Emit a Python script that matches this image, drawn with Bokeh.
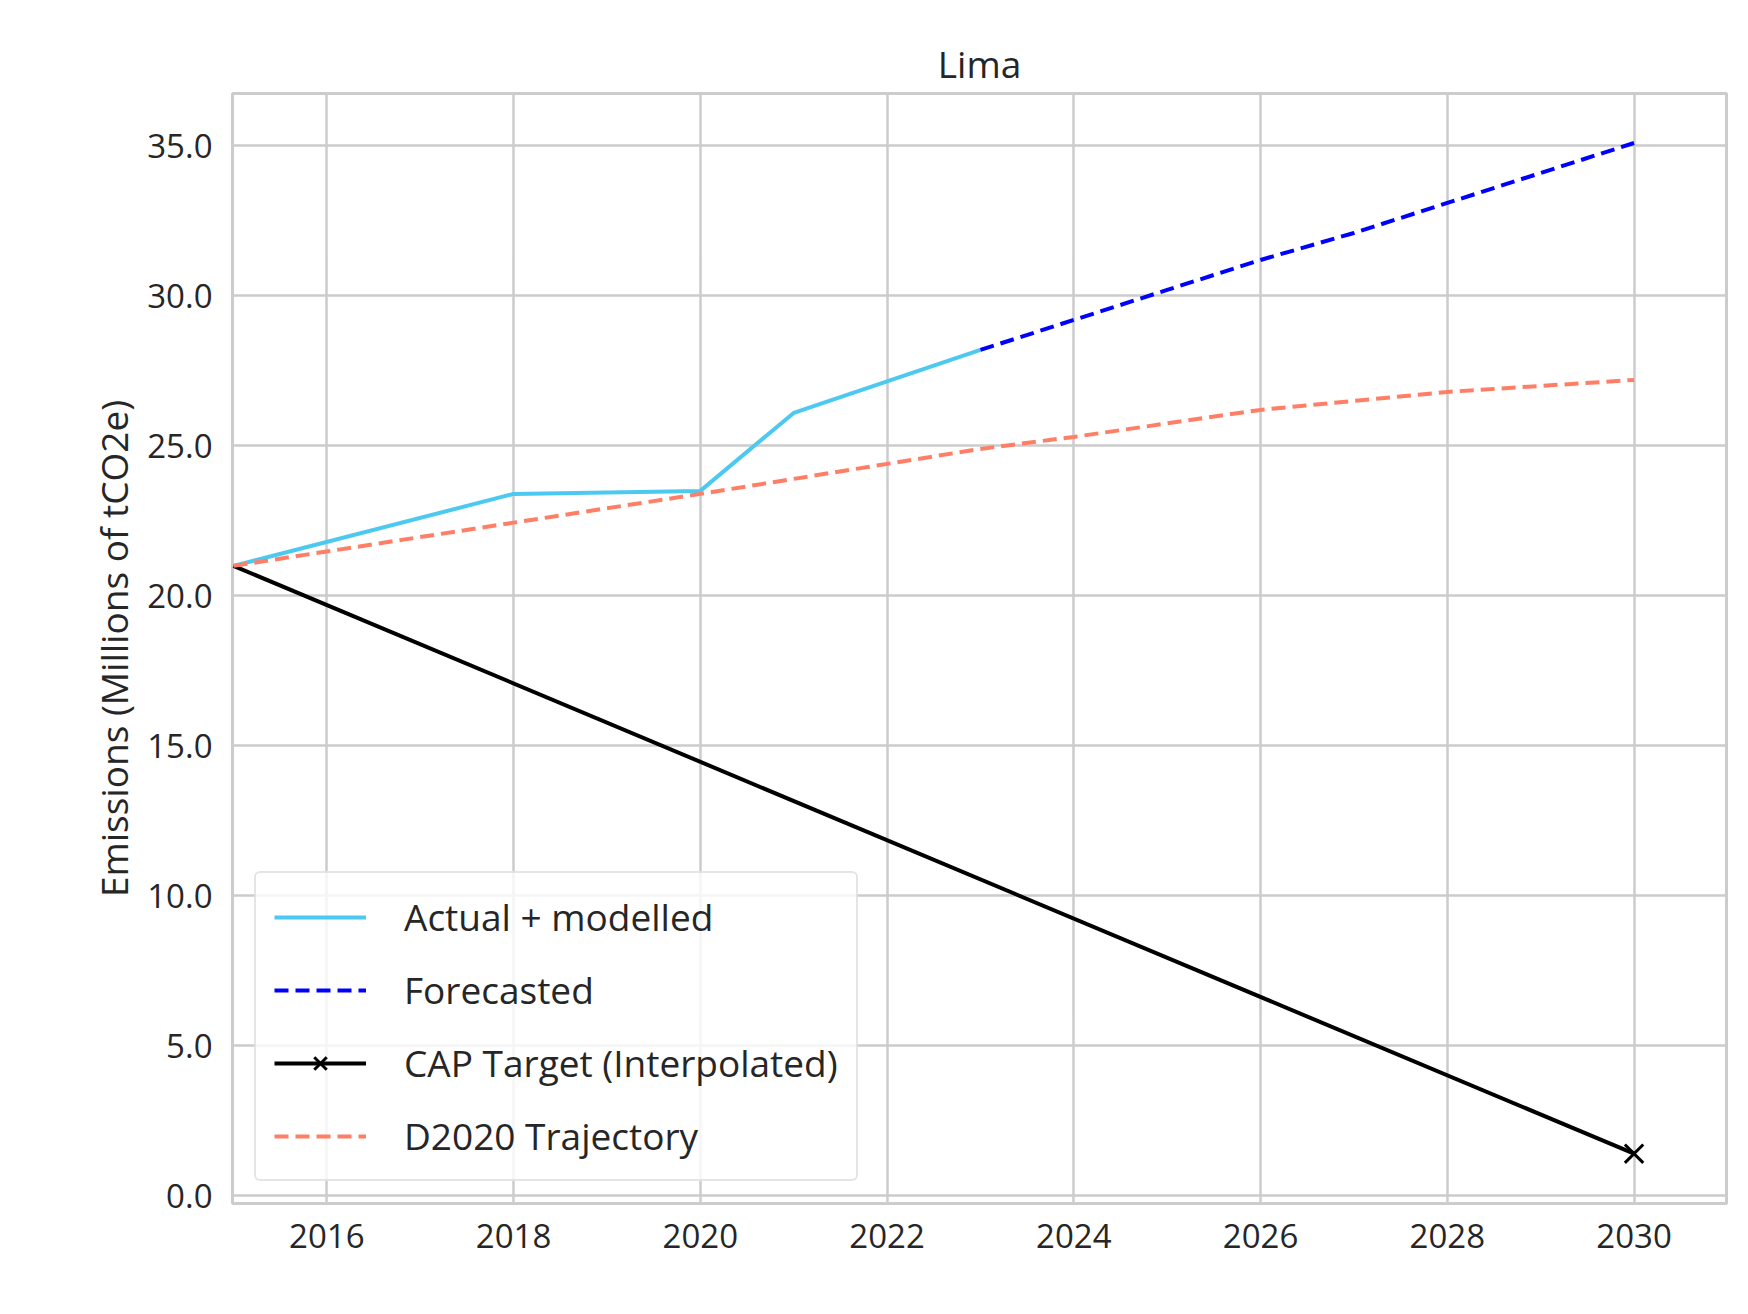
from bokeh.plotting import figure
from bokeh.models import FixedTicker, Range1d, NumeralTickFormatter, Legend
from bokeh.embed import file_html
from bokeh.resources import INLINE

actual_years = [2015, 2018, 2020, 2021, 2023]
actual_vals = [21.0, 23.4, 23.5, 26.1, 28.2]
fc_years = [2023, 2024, 2025, 2026, 2027, 2028, 2029, 2030]
fc_vals = [28.2, 29.2, 30.2, 31.2, 32.1, 33.1, 34.1, 35.1]
cap_years = [2015, 2030]
cap_vals = [21.0, 1.4]
d_years = [2015, 2020, 2023, 2024, 2026, 2028, 2030]
d_vals = [21.0, 23.4, 24.9, 25.3, 26.2, 26.8, 27.2]

FONT = "Open Sans"
p = figure(output_backend="svg", toolbar_location=None, frame_width=1494, frame_height=1110,
           min_border_left=232, min_border_top=93, min_border_right=6, min_border_bottom=90,
           x_range=Range1d(2014.99, 2030.99), y_range=Range1d(-0.26, 36.75),
           title="Lima", background_fill_color="white", border_fill_color="white")
p.title.align = "center"
p.title.text_font = FONT
p.title.text_font_size = "37px"
p.title.text_font_style = "normal"
p.title.text_color = "#262626"
p.outline_line_color = "#cccccc"
p.outline_line_width = 3
for ax in (p.xaxis[0], p.yaxis[0]):
    ax.axis_line_color = None
    ax.major_tick_line_color = None
    ax.minor_tick_line_color = None
    ax.major_label_text_font = FONT
    ax.major_label_text_font_size = "33px"
    ax.major_label_text_color = "#262626"
    ax.major_label_standoff = 14
p.xaxis.ticker = FixedTicker(ticks=list(range(2016, 2031, 2)))
p.yaxis.ticker = FixedTicker(ticks=[0, 5, 10, 15, 20, 25, 30, 35])
p.yaxis.formatter = NumeralTickFormatter(format="0.0")
p.yaxis.axis_label = "Emissions (Millions of tCO2e)"
p.yaxis.axis_label_text_font = FONT
p.yaxis.axis_label_text_font_size = "37px"
p.yaxis.axis_label_text_font_style = "normal"
p.yaxis.axis_label_text_color = "#262626"
p.grid.grid_line_color = "#cccccc"
p.grid.grid_line_width = 2.5

r1 = p.line(actual_years, actual_vals, line_color="#4cc9f0", line_width=4)
r2 = p.line(fc_years, fc_vals, line_color="#0000ff", line_width=4, line_dash="14 7")
r3 = p.line(cap_years, cap_vals, line_color="black", line_width=4)
r3b = p.scatter(cap_years[-1:], cap_vals[-1:], marker="x", size=26, line_color="black", line_width=3)
r4 = p.line(d_years, d_vals, line_color="#ff7f66", line_width=4, line_dash="14 7")

legend = Legend(items=[("Actual + modelled", [r1]), ("Forecasted", [r2]),
                       ("CAP Target (Interpolated)", [r3, r3b]), ("D2020 Trajectory", [r4])],
                location="bottom_left")
legend.label_text_font = FONT
legend.label_text_font_size = "37px"
legend.label_text_color = "#262626"
legend.glyph_width = 92
legend.glyph_height = 44
legend.label_standoff = 38
legend.spacing = 22
legend.padding = 18
legend.margin = 22
legend.border_line_color = "#cccccc"
legend.border_line_width = 2.5
legend.border_radius = 6
legend.background_fill_alpha = 0.8
p.add_layout(legend)

open("out.html", "w").write(file_html(p, INLINE))
